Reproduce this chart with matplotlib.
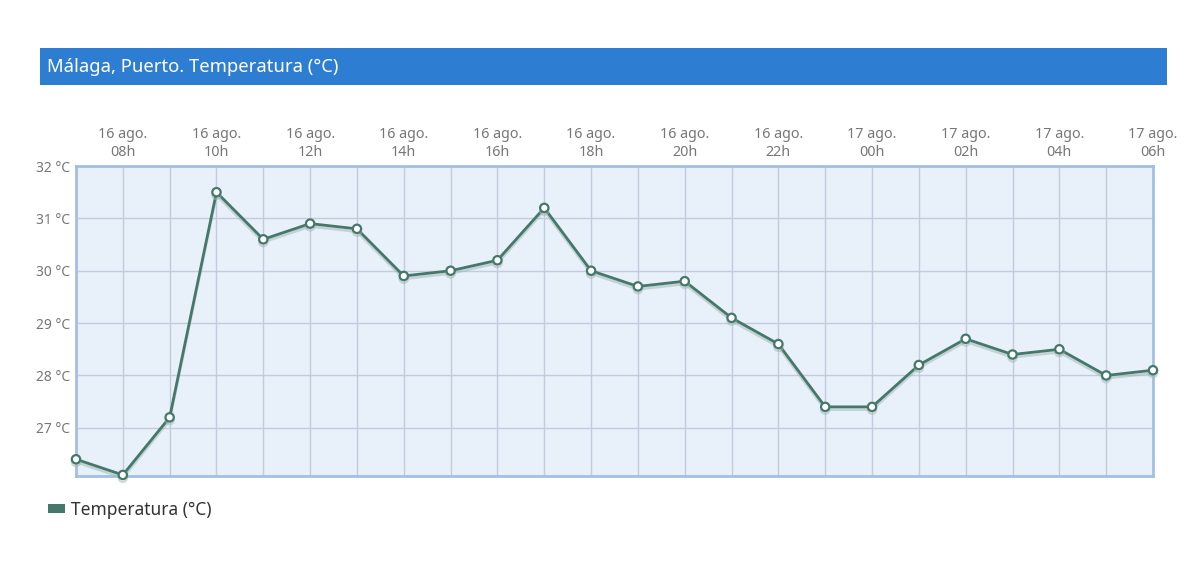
import matplotlib.pyplot as plt
import matplotlib.patheffects as pe
from matplotlib.patches import Rectangle, Patch

plt.rcParams['font.family'] = ['Noto Sans', 'DejaVu Sans']

# hourly readings, 16 ago. 07h -> 17 ago. 06h
hours = ['07h', '08h', '09h', '10h', '11h', '12h', '13h', '14h', '15h', '16h', '17h', '18h',
         '19h', '20h', '21h', '22h', '23h', '00h', '01h', '02h', '03h', '04h', '05h', '06h']
days = ['16 ago.'] * 17 + ['17 ago.'] * 7
temps = [26.4, 26.1, 27.2, 31.5, 30.6, 30.9, 30.8, 29.9, 30.0, 30.2, 31.2, 30.0,
         29.7, 29.8, 29.1, 28.6, 27.4, 27.4, 28.2, 28.7, 28.4, 28.5, 28.0, 28.1]
y_ticks = [27, 28, 29, 30, 31, 32]

line_color = '#45786a'
x = list(range(len(temps)))

fig = plt.figure(figsize=(12, 5.66), dpi=100)
fig.patch.set_facecolor('white')

# title bar
fig.patches.append(Rectangle((40 / 1200, 1 - 85 / 566), 1127 / 1200, 37 / 566,
                             transform=fig.transFigure, facecolor='#2d7dd2', edgecolor='none'))
fig.text(47 / 1200, 1 - 67 / 566, 'Málaga, Puerto. Temperatura (°C)', color='white',
         fontsize=13.3, va='center', ha='left')

ax = fig.add_axes([76 / 1200, 1 - 476 / 566, 1077 / 1200, 310 / 566])
ax.set_facecolor('#e8f0fa')

ax.plot(x, temps, color=line_color, linewidth=2.0, marker='o', markersize=6,
        markerfacecolor='white', markeredgecolor=line_color, markeredgewidth=1.6,
        zorder=3, clip_on=False,
        path_effects=[pe.SimpleLineShadow(offset=(0, -2), shadow_color='#9fb5b0', alpha=0.5),
                      pe.Normal()])

ax.set_xlim(0, len(temps) - 1)
ax.set_ylim(26.08, 32)

# grid: a vertical line every hour, a horizontal line every degree
ax.set_xticks(x, minor=True)
ax.grid(True, which='both', axis='x', color='#c3cbdc', linewidth=1)
ax.set_yticks(y_ticks)
ax.set_yticklabels([f'{t} °C' for t in y_ticks], color='#777777', fontsize=10)
ax.grid(True, which='major', axis='y', color='#c3cbdc', linewidth=1)
ax.set_axisbelow(True)

major = x[1::2]
ax.set_xticks(major)
ax.set_xticklabels([f'{days[i]}\n{hours[i]}' for i in major], color='#777777', fontsize=10.3,
                   linespacing=1.3)
ax.xaxis.tick_top()
ax.tick_params(axis='both', which='both', length=0, pad=4)

for s in ax.spines.values():
    s.set_color('#a3bfe3')
    s.set_linewidth(2)

fig.legend(handles=[Patch(facecolor=line_color, edgecolor='none')],
           labels=['Temperatura (°C)'], loc='center left',
           bbox_to_anchor=(32 / 1200, 1 - 510 / 566), frameon=False, fontsize=12.5,
           handlelength=1.0, handleheight=0.45, handletextpad=0.35, labelcolor='#333333')

fig.savefig('out.png', dpi=100, facecolor='white')
